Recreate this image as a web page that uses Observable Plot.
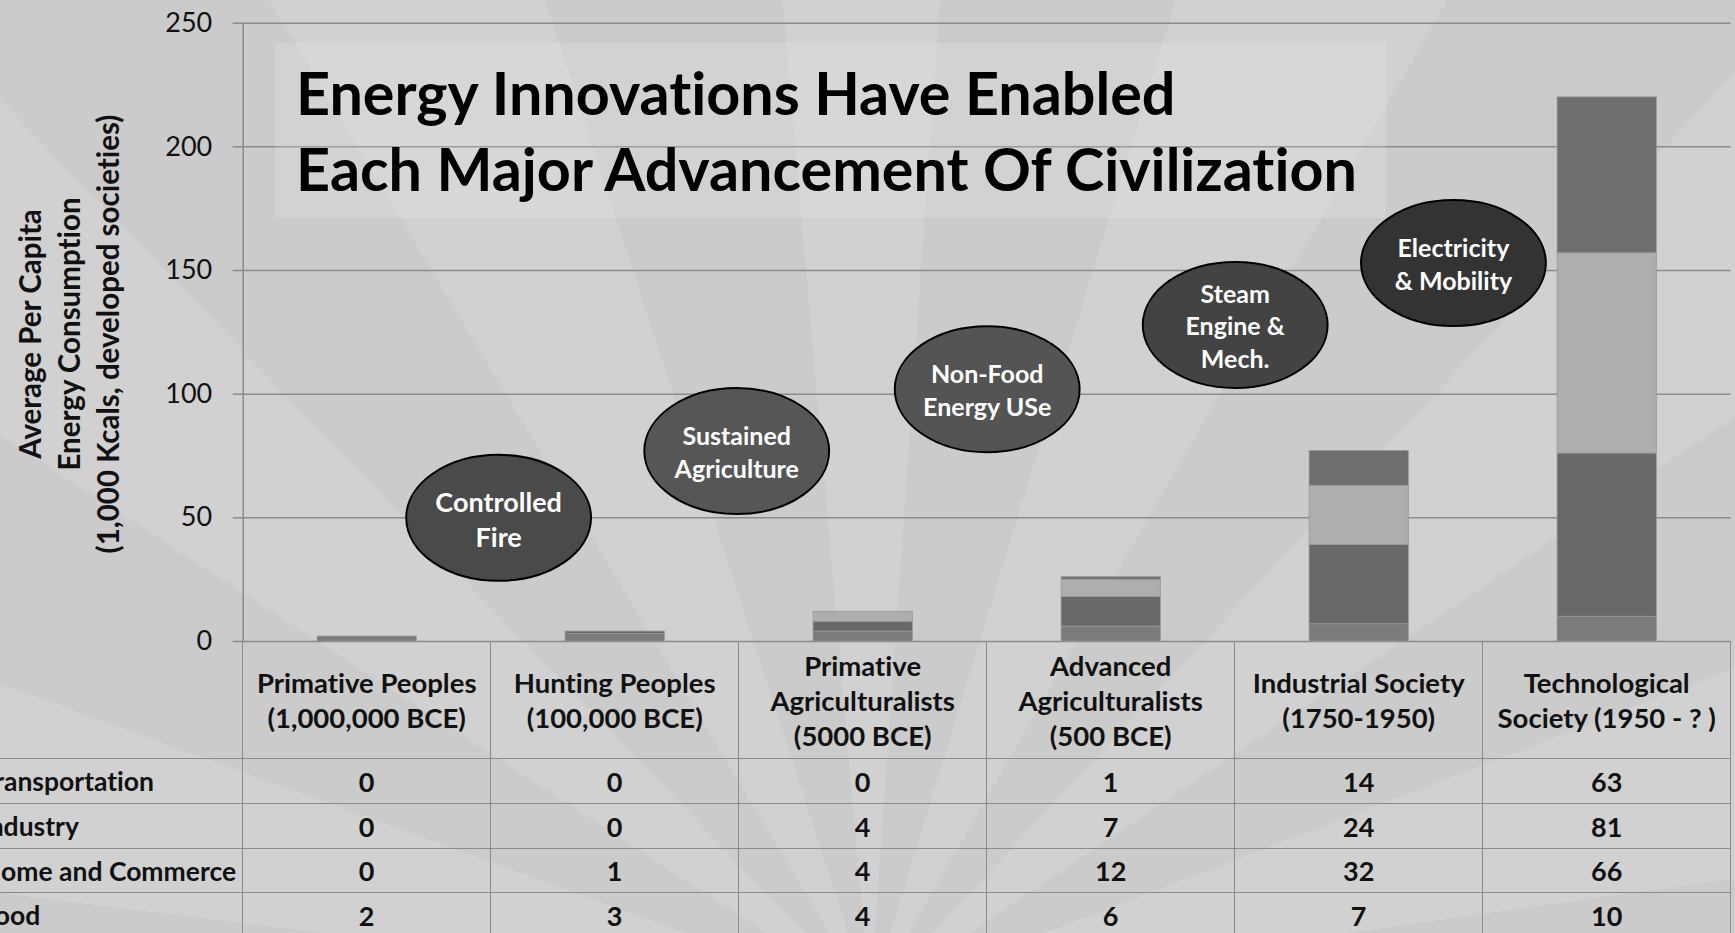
<!DOCTYPE html>
<html>
<head>
<meta charset="utf-8">
<script src="https://cdn.jsdelivr.net/npm/d3@7"></script>
<script src="https://cdn.jsdelivr.net/npm/@observablehq/plot@0.6"></script>
<style>
html, body { margin: 0; padding: 0; }
body { width: 1735px; height: 933px; overflow: hidden; position: relative; font-family: Lato, "Open Sans", sans-serif; color: #111; background: #cecece; font-variant-ligatures: none; }
#bg { position: absolute; left: 0; top: 0; width: 1735px; height: 933px;
  background: repeating-conic-gradient(from 4deg at 870px 1000px, #cbcbcb 0deg 13deg, #d1d1d1 13deg 26deg); }
#chart { position: absolute; left: 0; top: 0; }
#titlebox { position: absolute; left: 275px; top: 43px; width: 1111px; height: 175px; background: rgba(255,255,255,0.14); }
#title { position: absolute; left: 21px; top: 11px; font-weight: 700; font-size: 60px; line-height: 76px; white-space: nowrap; transform: scaleX(0.988); transform-origin: left top; color: #000; }
#ytitle { position: absolute; left: 68px; top: 334px; transform: translate(-50%, -50%) rotate(-90deg); white-space: nowrap; text-align: center; font-weight: 700; font-size: 29.5px; line-height: 39px; color: #111; }
.cell { position: absolute; box-sizing: border-box; display: flex; align-items: center; justify-content: center; text-align: center; font-weight: 700; color: #111; white-space: pre-line; }
.hcell { font-size: 27.5px; line-height: 35px; }
.vcell { font-size: 27px; }
.lcell { justify-content: flex-start; text-align: left; font-size: 26.5px; white-space: nowrap; }
.hline { position: absolute; height: 0; border-top: 1.5px solid #8b8b8b; }
.vline { position: absolute; width: 0; border-left: 1.5px solid #8b8b8b; }
</style>
</head>
<body>
<div id="bg"></div>
<div id="chart"></div>
<div id="titlebox"><div id="title">Energy Innovations Have Enabled<br>Each Major Advancement Of Civilization</div></div>
<div id="ytitle">Average Per Capita<br>Energy Consumption<br>(1,000 Kcals, developed societies)</div>
<div id="table"></div>
<script>
// ---- data ----
const categories = [
  "Primative Peoples\n(1,000,000 BCE)",
  "Hunting Peoples\n(100,000 BCE)",
  "Primative\nAgriculturalists\n(5000 BCE)",
  "Advanced\nAgriculturalists\n(500 BCE)",
  "Industrial Society\n(1750-1950)",
  "Technological\nSociety (1950 - ? )"
];
const food           = [2, 3, 4, 6, 7, 10];
const homeCommerce   = [0, 1, 4, 12, 32, 66];
const industry       = [0, 0, 4, 7, 24, 81];
const transportation = [0, 0, 0, 1, 14, 63];
const seriesNames  = ["Food", "Home and Commerce", "Industry", "Transportation"];
const seriesColors = ["#7b7b7b", "#686868", "#aeaeae", "#6e6e6e"];
const tableOrder   = ["Transportation", "Industry", "Home and Commerce", "Food"];
const yTicks = [0, 50, 100, 150, 200, 250];

// callout annotations (ellipses)
const calloutLabels = ["Controlled\nFire", "Sustained\nAgriculture", "Non-Food\nEnergy USe", "Steam\nEngine &\nMech.", "Electricity\n& Mobility"];
const calloutX = [1.03, 1.99, 3.0, 4.0, 4.88];
const calloutY = [50, 77, 102, 128, 153];
const calloutFill = ["#4a4a4a", "#565656", "#545454", "#434343", "#333333"];

// ---- build ----
const seriesValues = [food, homeCommerce, industry, transportation];
const rows = [];
categories.forEach((c, i) => seriesNames.forEach((s, j) => rows.push({i, category: c, series: s, value: seriesValues[j][i]})));
const callouts = calloutLabels.map((label, k) => ({label, id: "callout" + k, x: calloutX[k], y: calloutY[k]}));

const W = 1735, H = 643;
const mL = 242.7, mR = 4.3, mT = 22.7, mB = 2;
const bandW = (W - mL - mR) / categories.length;

const ellipse = {
  draw(ctx, size) {
    const r = Math.sqrt(size / Math.PI);
    const rx = r * 1.467, ry = r, k = 0.5523;
    ctx.moveTo(rx, 0);
    ctx.bezierCurveTo(rx, ry * k, rx * k, ry, 0, ry);
    ctx.bezierCurveTo(-rx * k, ry, -rx, ry * k, -rx, 0);
    ctx.bezierCurveTo(-rx, -ry * k, -rx * k, -ry, 0, -ry);
    ctx.bezierCurveTo(rx * k, -ry, rx, -ry * k, rx, 0);
    ctx.closePath();
  }
};

const plot = Plot.plot({
  width: W, height: H,
  marginLeft: mL, marginRight: mR, marginTop: mT, marginBottom: mB,
  style: {background: "transparent", fontFamily: "Lato, 'Open Sans', sans-serif", fontSize: "27px", color: "#111", overflow: "visible", fontVariantLigatures: "none"},
  x: {domain: [0, categories.length], axis: null},
  y: {domain: [0, 250], ticks: yTicks, tickSize: 10, tickPadding: 21, label: null, tickFormat: d => String(d)},
  color: {domain: seriesNames.concat(callouts.map(d => d.id)), range: seriesColors.concat(calloutFill)},
  marks: [
    Plot.ruleY(yTicks, {stroke: "#8b8b8b", strokeWidth: 1.5}),
    Plot.ruleX([0], {stroke: "#8b8b8b", strokeWidth: 1.5}),
    Plot.rectY(rows, Plot.stackY({x: "i", interval: 1, y: "value", fill: "series", stroke: "#979797", strokeWidth: 0.8, insetLeft: bandW * 0.3, insetRight: bandW * 0.3})),
    Plot.dot(callouts, {x: "x", y: "y", r: 63, symbol: ellipse, fill: "id", stroke: "#000", strokeWidth: 2}),
    Plot.text(callouts, {x: "x", y: "y", text: "label", fill: "white", fontSize: (d, i) => (d.id === "callout0" ? 27 : 25), fontWeight: "bold", lineHeight: 1.3})
  ]
});
document.getElementById("chart").appendChild(plot);
// grey tick marks
plot.querySelectorAll('[aria-label^="y-axis"] line, [aria-label="y-axis tick"] path').forEach(el => {
  el.setAttribute("stroke", "#8b8b8b"); el.setAttribute("stroke-width", "1.5");
});

// ---- table below the plot ----
const tbl = document.getElementById("table");
const top0 = mT + (H - mT - mB); // y of zero line
const headH = 118, rowH = 44.7;
const colX = d3.range(categories.length + 1).map(i => mL + i * bandW);
function add(cls, style, text) {
  const d = document.createElement("div");
  d.className = cls;
  Object.assign(d.style, style);
  if (text != null) d.textContent = text;
  tbl.appendChild(d);
  return d;
}
categories.forEach((c, i) => add("cell hcell", {left: colX[i] + "px", top: top0 + "px", width: bandW + "px", height: headH + "px"}, c));
tableOrder.forEach((name, r) => {
  const y = top0 + headH + r * rowH;
  add("hline", {left: "0px", top: (y - 0.75) + "px", width: colX[colX.length - 1] + "px"});
  add("cell lcell", {left: "-19px", top: y + "px", width: (mL + 19) + "px", height: rowH + "px"}, name);
  const vals = seriesValues[seriesNames.indexOf(name)];
  vals.forEach((v, i) => add("cell vcell", {left: colX[i] + "px", top: y + "px", width: bandW + "px", height: rowH + "px"}, String(v)));
});
colX.forEach(x => add("vline", {left: (x - 0.75) + "px", top: top0 + "px", height: (933 - top0) + "px"}));
</script>
</body>
</html>
